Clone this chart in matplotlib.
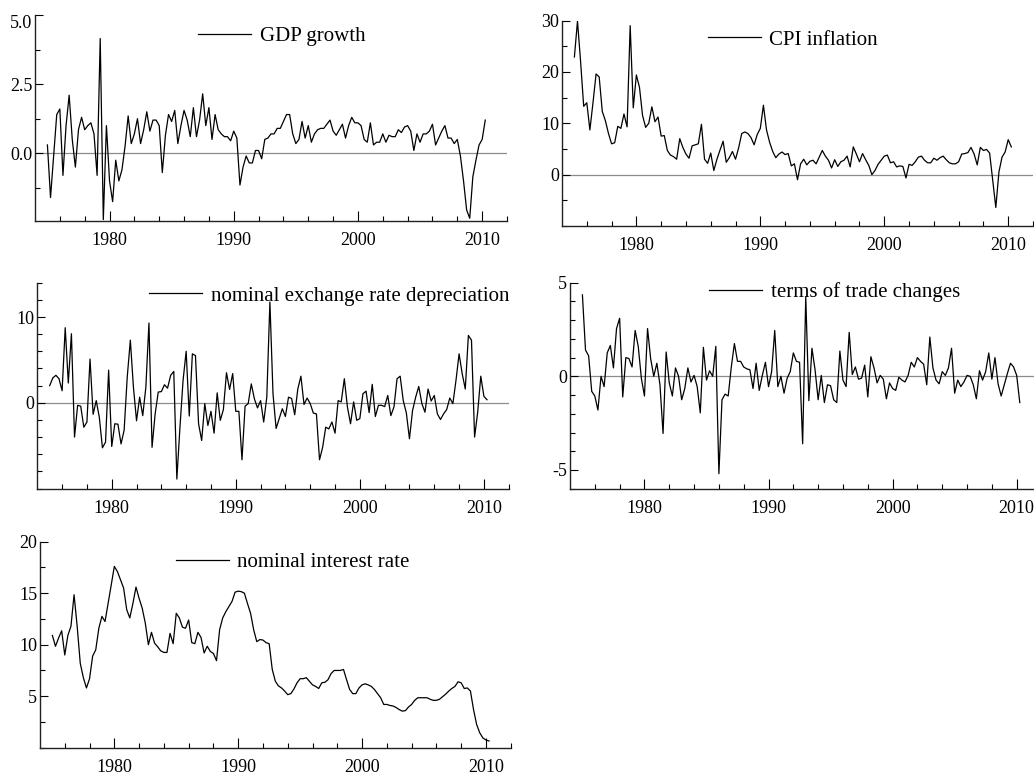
import numpy as np
import matplotlib
matplotlib.use("Agg")
import matplotlib.pyplot as plt

plt.rcParams['font.family'] = ['Liberation Serif', 'DejaVu Serif']

# quarterly data, 1975Q1 - 2010Q2
gdp_growth = [0.3, -1.6, -0.1, 1.4, 1.6, -0.8, 1.0, 2.1, 0.5, -0.5, 0.85, 1.3, 0.85, 1.0, 1.1, 0.7,
              -0.8, 4.15, -2.4, 1.0, -1.0, -1.75, -0.25, -1.0, -0.6, 0.25, 1.35, 0.35, 0.7, 1.25, 0.35,
              0.85, 1.5, 0.8, 1.2, 1.2, 1.0, -0.7, 0.65, 1.4, 1.15, 1.55, 0.35, 1.0, 1.55, 1.2, 0.6,
              1.65, 0.6, 1.2, 2.15, 1.0, 1.65, 0.5, 1.4, 0.85, 0.7, 0.6, 0.6, 0.45, 0.8, 0.55, -1.15,
              -0.5, -0.1, -0.35, -0.35, 0.1, 0.1, -0.2, 0.5, 0.55, 0.7, 0.7, 0.9, 0.9, 1.15, 1.4, 1.4,
              0.7, 0.35, 0.5, 1.15, 0.55, 1.0, 0.4, 0.7, 0.85, 0.9, 0.9, 1.05, 1.2, 0.8, 0.65, 0.85,
              1.05, 0.55, 1.0, 1.3, 1.1, 1.1, 1.0, 0.5, 0.4, 1.1, 0.3, 0.4, 0.4, 0.7, 0.4, 0.65, 0.6,
              0.6, 0.85, 0.75, 0.95, 1.0, 0.8, 0.1, 0.7, 0.4, 0.7, 0.7, 0.8, 1.05, 0.3, 0.55, 0.8, 1.0,
              0.55, 0.55, 0.35, 0.5, -0.1, -1.0, -2.05, -2.35, -0.85, -0.25, 0.3, 0.5, 1.2]

cpi_inflation = [22.9, 29.9, 22.0, 13.3, 14.0, 8.7, 14.0, 19.6, 19.0, 12.3, 10.5, 8.0, 6.0, 6.2, 9.4,
                 9.0, 11.8, 9.3, 29.0, 13.0, 19.4, 17.0, 11.5, 9.2, 10.0, 13.2, 10.3, 11.2, 7.5, 7.6,
                 4.7, 3.8, 3.5, 3.0, 7.0, 5.3, 4.0, 3.2, 5.6, 5.8, 6.0, 9.8, 3.0, 2.2, 4.2, 0.8, 3.0,
                 4.8, 6.5, 2.4, 3.3, 4.5, 3.0, 5.2, 8.0, 8.3, 8.0, 7.2, 5.8, 7.8, 9.0, 13.5, 8.7, 6.3,
                 4.5, 3.3, 4.0, 4.4, 3.9, 4.1, 1.7, 2.1, -1.0, 2.1, 3.0, 1.9, 2.6, 2.8, 2.1, 3.4, 4.7,
                 3.6, 2.8, 1.3, 2.9, 1.6, 2.5, 2.8, 3.6, 1.5, 5.4, 4.0, 2.5, 4.1, 2.9, 1.8, 0.0, 0.8,
                 2.0, 2.8, 3.6, 3.8, 2.3, 2.5, 1.5, 1.7, 1.6, -0.65, 2.0, 1.8, 2.5, 3.4, 3.6, 2.8, 2.3,
                 2.3, 3.2, 2.8, 3.3, 3.6, 2.9, 2.3, 2.1, 2.1, 2.5, 4.0, 4.1, 4.3, 5.3, 4.0, 1.9, 5.3,
                 4.7, 4.9, 4.2, -1.1, -6.4, 0.5, 3.4, 4.4, 6.8, 5.4]

exch_depreciation = [2.0, 2.9, 3.2, 2.8, 1.4, 8.75, 2.3, 8.05, -4.0, -0.3, -0.4, -2.85, -2.25, 5.1,
                     -1.35, 0.25, -1.7, -5.25, -4.6, 3.8, -5.1, -2.45, -2.5, -4.8, -3.2, 3.0, 7.3, 1.8,
                     -2.1, 0.65, -1.5, 1.8, 9.3, -5.2, -1.3, 1.25, 1.3, 2.1, 1.7, 3.2, 3.65, -8.9,
                     -2.85, 2.6, 6.0, -1.55, 5.7, 5.5, -2.45, -4.4, -0.1, -2.65, -1.0, -3.55, 1.15,
                     -2.05, -0.8, 3.5, 1.55, 3.4, -1.0, -1.0, -6.65, -0.4, -0.1, 2.2, 0.45, -0.6, 0.25,
                     -2.25, 0.65, 11.75, 1.05, -3.0, -1.85, -0.7, -1.6, 0.65, 0.5, -1.4, 1.6, 3.1,
                     -0.2, 0.55, -0.1, -1.2, -1.3, -6.65, -5.2, -2.85, -3.05, -2.25, -3.55, 0.25, 0.1,
                     2.8, -0.5, -2.45, 0.1, -2.05, -1.85, 1.05, 1.35, -1.15, 2.15, -1.6, -0.3, -0.3,
                     -0.45, 0.85, -1.5, -0.5, 2.8, 3.1, 0.25, -1.2, -4.2, -0.9, 0.65, 1.9, -0.1, -1.1,
                     1.6, 0.2, 0.85, -1.3, -1.95, -1.3, -0.8, 0.55, -0.1, 2.6, 5.7, 3.4, 1.6, 7.85,
                     7.3, -4.0, -1.1, 3.1, 0.75, 0.35]

tot_changes = [4.35, 1.4, 1.1, -0.8, -1.05, -1.8, 0.0, -0.55, 1.25, 1.65, 0.45, 2.55, 3.1, -1.1, 1.0,
               0.95, 0.5, 2.45, 1.6, -0.1, -1.05, 2.55, 0.95, 0.0, 0.7, -0.45, -3.05, 1.3, -0.35,
               -1.05, 0.45, 0.0, -1.25, -0.65, 0.45, -0.3, 0.05, -0.55, -1.95, 1.55, -0.2, 0.3, 0.0,
               1.6, -5.2, -1.25, -0.95, -1.05, 0.5, 1.75, 0.8, 0.8, 0.5, 0.4, 0.35, -0.65, 0.7,
               -0.75, 0.05, 0.75, -0.55, 0.25, 2.45, -0.55, 0.0, -0.9, -0.1, 0.25, 1.25, 0.8, 0.75,
               -3.6, 4.25, -1.3, 1.5, 0.35, -1.25, 0.05, -1.4, -0.45, -0.5, -1.25, -1.4, 1.35, -0.2,
               -0.55, 2.35, 0.1, 0.5, -0.15, -0.1, 0.6, -1.1, 1.05, 0.45, -0.35, 0.05, -0.15, -1.2,
               -0.35, -0.65, -0.75, -0.05, -0.2, -0.3, 0.05, 0.75, 0.5, 1.0, 0.8, 0.65, -0.45, 2.1,
               0.45, -0.2, -0.4, 0.25, 0.05, 0.45, 1.5, -0.9, -0.2, -0.55, -0.3, 0.05, 0.0, -0.45,
               -1.2, 0.3, -0.2, 0.25, 1.25, -0.15, 1.0, -0.4, -1.05, -0.45, 0.15, 0.7, 0.5, 0.05, -1.4]

interest_rate = [10.9, 9.85, 10.65, 11.35, 9.0, 10.9, 11.8, 14.85, 11.8, 8.2, 6.8, 5.8, 6.7, 8.9, 9.5,
                 11.6, 12.75, 12.25, 14.0, 15.8, 17.6, 17.1, 16.3, 15.5, 13.4, 12.6, 14.0, 15.6, 14.5,
                 13.55, 12.1, 10.0, 11.2, 10.15, 9.8, 9.4, 9.25, 9.25, 11.1, 10.1, 13.05, 12.6, 11.7,
                 11.6, 12.4, 10.2, 10.1, 11.2, 10.7, 9.2, 9.85, 9.35, 9.15, 8.45, 11.45, 12.6, 13.2,
                 13.7, 14.2, 15.1, 15.2, 15.15, 15.0, 14.0, 13.05, 11.45, 10.3, 10.5, 10.45, 10.2,
                 10.1, 7.6, 6.45, 6.0, 5.8, 5.5, 5.15, 5.25, 5.7, 6.3, 6.7, 6.7, 6.8, 6.45, 6.1, 5.95,
                 5.75, 6.3, 6.35, 6.6, 7.2, 7.5, 7.5, 7.5, 7.6, 6.6, 5.65, 5.25, 5.25, 5.8, 6.1, 6.2,
                 6.1, 5.95, 5.65, 5.25, 4.85, 4.2, 4.2, 4.1, 4.05, 3.9, 3.7, 3.55, 3.6, 3.95, 4.2, 4.6,
                 4.85, 4.85, 4.85, 4.85, 4.7, 4.6, 4.6, 4.7, 4.95, 5.2, 5.5, 5.75, 5.95, 6.4, 6.3,
                 5.75, 5.8, 5.5, 3.7, 2.25, 1.45, 0.95, 0.75, 0.65]

W, H = 1034, 780
fig = plt.figure(figsize=(W / 100, H / 100), dpi=100)

# (series, legend, ylim, major ticks, major labels, minor step, box px: left, top, right, bottom, legend anchor, zero line)
panels = [
    (gdp_growth, "GDP growth", (-2.45, 5.0), [0, 2.5, 5.0], ["0.0", "2.5", "5.0"], 1.25,
     (35, 15, 507, 221), (0.346, 0.895), True),
    (cpi_inflation, "CPI inflation", (-10, 30), [0, 10, 20, 30], ["0", "10", "20", "30"], 5,
     (562, 20.5, 1033, 226), (0.309, 0.906), True),
    (exch_depreciation, "nominal exchange rate depreciation", (-10, 14), [0, 10], ["0", "10"], 2,
     (37.3, 282.7, 508.7, 488.5), (0.2375, 0.936), True),
    (tot_changes, "terms of trade changes", (-6, 5), [-5, 0, 5], ["-5", "0", "5"], 1,
     (570, 282.7, 1041.5, 488.7), (0.295, 0.953), True),
    (interest_rate, "nominal interest rate", (0, 20), [5, 10, 15, 20], ["5", "10", "15", "20"], 2.5,
     (40, 541.7, 510.7, 747.7), (0.288, 0.900), False),
]

for series, name, ylim, yt, ytl, ystep, box, leg_xy, zero in panels:
    l, t, r, b = box
    ax = fig.add_axes([l / W, 1 - b / H, (r - l) / W, (b - t) / H])
    x = 1975 + np.arange(len(series)) * 0.25
    if zero:
        ax.axhline(0, color='#8c8c8c', lw=0.9, zorder=1)
    ax.plot(x, series, color='black', lw=0.9, label=name, zorder=2)

    ax.set_xlim(1974, 2012)
    ax.set_xticks([1980, 1990, 2000, 2010])
    ax.set_xticklabels(["1980", "1990", "2000", "2010"])
    ax.set_xticks(np.arange(1976, 2013, 2), minor=True)
    ax.set_yticks(yt)
    ax.set_yticklabels(ytl)
    ax.set_yticks(np.arange(-20, 40, ystep), minor=True)
    ax.set_ylim(*ylim)

    ax.spines['top'].set_visible(False)
    ax.spines['right'].set_visible(False)
    for s in ('left', 'bottom'):
        ax.spines[s].set_linewidth(1.0)
        ax.spines[s].set_color('#222222')
    ax.tick_params(axis='x', which='major', direction='in', length=7, width=0.8, pad=8, labelsize=13)
    ax.tick_params(axis='x', which='minor', direction='in', length=3.6, width=0.8)
    ax.tick_params(axis='y', which='major', direction='in', length=5.5, width=0.8, pad=2, labelsize=13)
    ax.tick_params(axis='y', which='minor', direction='in', length=3.6, width=0.8)
    ax.patch.set_visible(False)

    ax.legend(loc='center left', bbox_to_anchor=leg_xy, frameon=False, fontsize=15,
              handlelength=2.55, handletextpad=0.4, borderpad=0, borderaxespad=0)

    if name == "GDP growth":
        ax.get_yticklabels()[-1].set_verticalalignment('top')

fig.savefig("out.png", dpi=100)
